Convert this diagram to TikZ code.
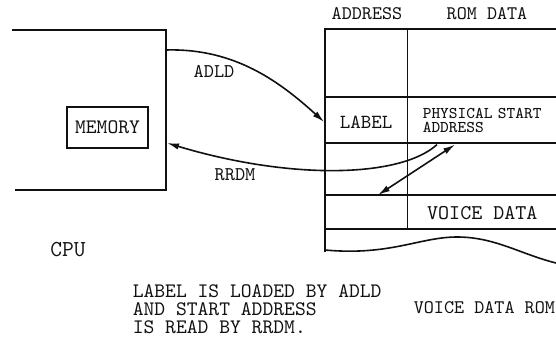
\documentclass[tikz,border=0pt]{standalone}
\usepackage{fontspec}
\usepackage{tikz}
\usetikzlibrary{arrows.meta,positioning,calc}
\definecolor{rmink}{HTML}{111111}
\newcommand{\tsize}[1]{\ttfamily\fontsize{#1}{#1}\selectfont}

\begin{document}
\begin{tikzpicture}[x=0.5pt,y=-0.5pt,>={Latex[length=6pt,width=3.2pt]},
  line width=0.8pt,color=rmink,
  txt/.style={font=\tsize{10.3},text=rmink,inner sep=0pt},
  cell/.style={minimum width=41pt,minimum height=23pt,inner sep=0pt}]
\useasboundingbox (0,0) rectangle (556,337);
% cpu side
\draw[line width=1pt] (12,30) -- (166,30) -- (166,190) -- (15,190);
\node[txt,draw,minimum width=40.5pt,minimum height=20.5pt] (mem)
  at (107.5,127.5) {MEMORY};
\node[txt,font=\tsize{11.4}] (cpu) at (68,250) {CPU};
\coordinate (adldout) at (166,50);
\coordinate (rrdmin) at (167,143);
% rom side
\draw (325,252) -- (325,29) -- (556,29);
\foreach \y in {97,143,195,229}
  \draw (325,\y) -- (556,\y);
\draw[line width=0.4pt] (407,29) -- (407,229);
\draw (325,250) .. controls (390,256) and (420,237) .. (457,237)
  .. controls (495,237) and (520,254) .. (556,263);
\node[txt,font=\tsize{9.6}] (addrhead) at (367,14) {ADDRESS};
\node[txt,font=\tsize{9.6}] (datahead) at (487,14) {ROM DATA};
\node[txt,cell,font=\tsize{10}] (lab) at (366,122) {LABEL};
\node[txt,cell,anchor=north west,inner xsep=7.5pt,text width=67pt,
  align=left,font=\ttfamily\fontsize{8.2}{7}\selectfont] (phys)
  at (407,97) {PHYSICAL START\\ADDRESS};
\node[txt,anchor=north west,minimum width=74.5pt,minimum height=17pt,
  font=\tsize{10.5}] (voice) at (407,195) {VOICE DATA};
% connectors
\draw[->] (adldout) .. controls (235,48) and (280,82) .. (lab.west);
\node[txt,font=\tsize{9.7}] (adld) at (214,71) {ADLD};
\draw[->] ([xshift=15pt]phys.south west)
  .. controls (400,178) and (290,180) .. (rrdmin);
\node[txt,font=\tsize{9.7}] (rrdm) at (235,175) {RRDM};
\draw[<->] ([xshift=-14.5pt]voice.north west) -- ([xshift=24pt]phys.south west);
% notes
\node[txt,anchor=north west,align=left,font=\ttfamily\fontsize{10.3}{9}\selectfont]
  (note) at (132,284)
  {LABEL IS LOADED BY ADLD\\AND START ADDRESS\\IS READ BY RRDM.};
\node[txt,anchor=west,font=\tsize{9.6}] (romname) at (413,308) {VOICE DATA ROM};
\end{tikzpicture}
\end{document}
